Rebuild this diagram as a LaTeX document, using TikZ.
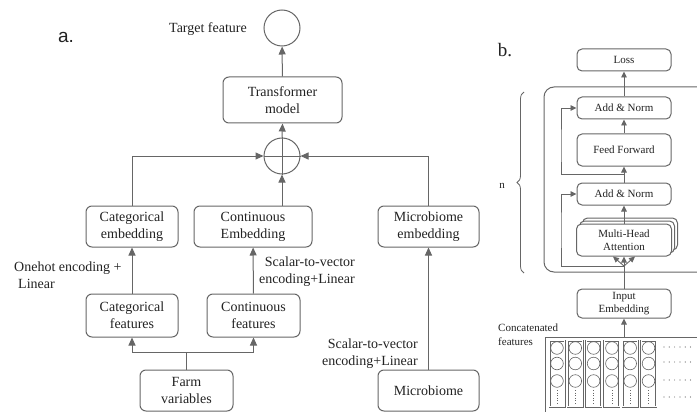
\documentclass[tikz,border=0pt]{standalone}
\usepackage{fontspec}
\setmainfont{Liberation Serif}
\newfontfamily\sanslabel{Liberation Sans}
\usetikzlibrary{arrows.meta,decorations.pathreplacing,calc}
\definecolor{linegray}{HTML}{666666}
\definecolor{textgray}{HTML}{222222}
\tikzset{
	box/.style={draw=linegray, line width=1pt, rounded corners=6pt, align=center, text=textgray, inner sep=0pt, fill=white, font=\fontsize{14}{17}\selectfont},
	smallbox/.style={box, rounded corners=5pt, font=\fontsize{11}{13.5}\selectfont},
	ring/.style={circle, draw=linegray, line width=1pt, inner sep=0pt, minimum size=36pt},
	arr/.style={draw=linegray, line width=1pt, -{Triangle[length=8pt,width=7pt]}},
	sarr/.style={draw=linegray, line width=0.9pt, -{Triangle[length=6pt,width=5.5pt]}},
	lbl/.style={text=textgray, inner sep=0pt, font=\fontsize{14}{17}\selectfont},
	slbl/.style={lbl, font=\fontsize{11}{14}\selectfont},
	featcol/.style={draw=linegray, line width=0.5pt, double=white, double distance=1pt, minimum width=15pt, minimum height=66pt, inner sep=0pt},
}
\begin{document}
\begin{tikzpicture}[x=1pt,y=-1pt]
	\useasboundingbox (0,0) rectangle (697,412);
	\clip (0,0) rectangle (697,412);
	% panel a
	\node[lbl, font=\sanslabel\fontsize{19}{20}\selectfont] (alabel) at (66,37) {a.};
	\node[ring] (target) at (282,28) {};
	\node[lbl] (targetlbl) at (208,29) {Target feature};
	\node[box, minimum width=119pt, minimum height=46pt] (trans) at (282.5,100) {Transformer\\model};
	\node[ring] (plus) at (282,156) {};
	\draw[linegray, line width=1pt] (plus.north) -- (plus.south) (plus.west) -- (plus.east);
	\node[box, minimum width=92pt, minimum height=41pt] (catemb) at (132,226.5) {Categorical\\embedding};
	\node[box, minimum width=118pt, minimum height=41pt] (conemb) at (253,226.5) {Continuous\\Embedding};
	\node[box, minimum width=101pt, minimum height=41pt] (micemb) at (428.5,226.5) {Microbiome\\embedding};
	\node[box, minimum width=92pt, minimum height=43pt] (catfeat) at (132,315.5) {Categorical\\features};
	\node[box, minimum width=93pt, minimum height=43pt] (confeat) at (253.5,315.5) {Continuous\\features};
	\node[box, minimum width=93pt, minimum height=41pt] (farm) at (186.5,390.5) {Farm\\variables};
	\node[box, minimum width=101pt, minimum height=41pt] (micro) at (428.5,390.5) {Microbiome};
	\node[lbl, align=left, anchor=west] (onehot) at (14,275.5) {Onehot encoding +\\\hspace*{4pt}Linear};
	\node[lbl, align=right, anchor=east] (scalarA) at (355,271.5) {Scalar-to-vector\\encoding+Linear};
	\node[lbl, align=right, anchor=east] (scalarB) at (418,353.5) {Scalar-to-vector\\encoding+Linear};
	\draw[arr] (trans) -- (target);
	\draw[arr] (plus.north) -- (trans.south);
	\draw[arr] (plus |- conemb.north) -- (plus.south);
	\draw[arr] (catemb.north) |- (plus.west);
	\draw[arr] (micemb.north) |- (plus.east);
	\draw[arr] (catfeat) -- (catemb);
	\draw[arr] (confeat) -- (conemb);
	\draw[arr] (micro) -- (micemb);
	\draw[linegray, line width=1pt] (farm.north) -- ++(0,-17) coordinate (split);
	\draw[arr] (split) -| (catfeat.south);
	\draw[arr] (split) -| (confeat.south);
	% panel b
	\node[lbl, font=\fontsize{19}{20}\selectfont] (blabel) at (505,50) {b.};
	\node[smallbox, minimum width=94pt, minimum height=22pt] (loss) at (624,60) {Loss};
	\draw[linegray, line width=1pt, rounded corners=10pt] (710,87) -- (544,87) -- (544,272) -- (710,272);
	\draw[linegray, line width=0.8pt, decorate, decoration={brace, amplitude=7pt}] (524,273) -- (524,92);
	\node[slbl] (nlbl) at (502,186) {n};
	\node[smallbox, minimum width=94pt, minimum height=22pt] (addnormA) at (624,108) {Add \& Norm};
	\node[smallbox, minimum width=94pt, minimum height=32pt] (ffwd) at (624,150) {Feed Forward};
	\node[smallbox, minimum width=94pt, minimum height=22pt] (addnormB) at (624,194) {Add \& Norm};
	\node[smallbox, minimum width=95pt, minimum height=32pt] (mhaC) at (630,234) {};
	\node[smallbox, minimum width=95pt, minimum height=32pt] (mhaB) at (627,237) {};
	\node[smallbox, minimum width=95pt, minimum height=32pt] (mha) at (624,240) {Multi-Head\\Attention};
	\node[smallbox, minimum width=94pt, minimum height=29pt] (inemb) at (624,303.5) {Input\\Embedding};
	\node[slbl, align=left, anchor=west] (concat) at (498,335) {Concatenated\\features};
	\draw[sarr] (addnormA) -- (loss);
	\draw[sarr] (ffwd) -- (addnormA);
	\draw[sarr] (addnormB) -- (ffwd);
	\draw[sarr] (mha) -- (addnormB);
	\coordinate (resA) at ($(addnormB.north)!0.5!(ffwd.south)$);
	\draw[linegray, line width=1pt] (inemb.north) -- (624,266) coordinate (resB);
	\draw[sarr] (resA) -| (561,150) |- (addnormA.west);
	\draw[sarr] (resB) -| (561,230) |- (addnormB.west);
	\foreach \dx in {-11,0,11}
		\draw[sarr] (resB) -- ([xshift=\dx pt]mha.south);
	% concatenated features
	\draw[linegray, line width=0.8pt] (545,420) |- (705,337) coordinate (featbox);
	\draw[sarr] (featbox -| inemb) -- (inemb.south);
	\foreach \i in {0,...,5} {
		\node[featcol] (col\i) at ({557+18.3*\i},373.5) {};
		\foreach \y in {348,363.5,381}
			\draw[linegray, line width=0.6pt] (col\i.center |- 0,\y) circle (6.3pt);
		\draw[linegray, dotted, line width=0.6pt] (col\i.center |- 0,390) -- (col\i.center |- 0,404);
	}
	\foreach \y in {347,362,380,397}
		\foreach \k in {0,...,5}
			\fill[linegray] ({664+5.3*\k},\y) circle (0.6pt);
\end{tikzpicture}
\end{document}
